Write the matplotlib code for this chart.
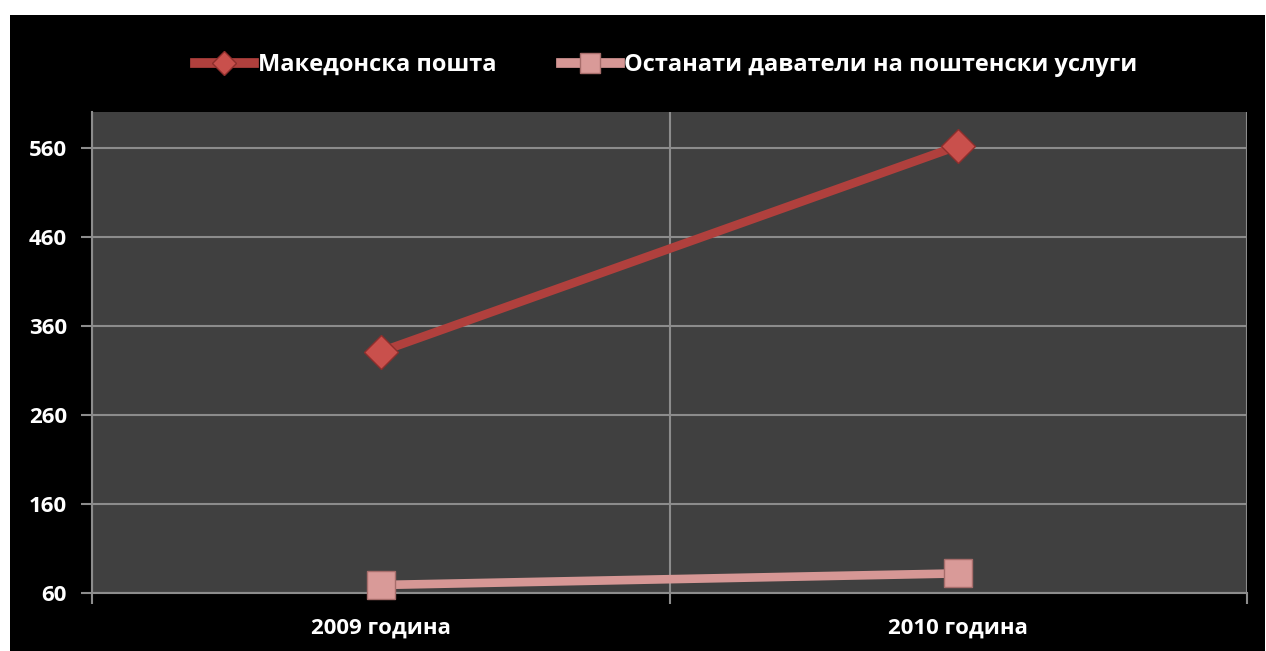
import matplotlib
matplotlib.use("Agg")

import numpy as np
import matplotlib.pyplot as plt
from matplotlib.lines import Line2D
from matplotlib.patches import Rectangle

categories = ['2009 година', '2010 година']
mk_posta = [331, 562]
ostanati = [69, 82]
series_names = ['Македонска пошта', 'Останати даватели на поштенски услуги']
y_ticks = [60, 160, 260, 360, 460, 560]

plt.rcParams['font.family'] = ['Open Sans', 'DejaVu Sans']

W, H = 1266, 651
fig = plt.figure(figsize=(W / 100, H / 100), dpi=100)
fig.patch.set_facecolor('white')

# black chart area behind everything
fig.patches.append(Rectangle((10 / W, 0), 1255 / W, 636 / H, transform=fig.transFigure,
                             facecolor='black', edgecolor='none', zorder=-10))

ax = fig.add_axes([92 / W, 58 / H, 1155 / W, 481 / H])
ax.set_facecolor('#404040')

red = '#B0403D'
red_m = '#C9504C'
pink = '#D69795'
pink_m = '#D99A98'
grid_c = '#8C8C8C'

x = np.arange(len(categories))
ax.plot(x, mk_posta, color=red, lw=6.2, marker='D', ms=17, mfc=red_m, mec='#8E2E2C',
        mew=1, solid_capstyle='butt', zorder=4, clip_on=False)
ax.plot(x, ostanati, color=pink, lw=6.2, marker='s', ms=20, mfc=pink_m, mec='#A76D6B',
        mew=1, solid_capstyle='butt', zorder=4, clip_on=False)

ax.set_xlim(-0.5, 1.5)
ax.set_ylim(60, 600)
ax.set_yticks(y_ticks)
ax.set_yticklabels([str(v) for v in y_ticks])
ax.set_xticks([-0.5, 0.5, 1.5])
ax.set_xticklabels([])
ax.set_xticks(x, minor=True)
ax.set_xticklabels(categories, minor=True)

ax.grid(True, which='major', color=grid_c, lw=1.5)
ax.set_axisbelow(True)
ax.tick_params(axis='both', which='major', colors=grid_c, length=8, width=1.5, direction='out')
ax.tick_params(axis='y', labelcolor='white', labelsize=16, pad=10)
ax.tick_params(axis='x', which='minor', length=0, labelcolor='white', labelsize=16, pad=18)
for lab in ax.get_yticklabels() + ax.get_xticklabels(minor=True):
    lab.set_fontweight('bold')

for s in ['top', 'right']:
    ax.spines[s].set_visible(False)
for s in ['left', 'bottom']:
    ax.spines[s].set_color(grid_c)
    ax.spines[s].set_linewidth(1.5)

handles = [
    Line2D([], [], color=red, lw=7, marker='D', ms=12, mfc=red_m, mec='#8E2E2C'),
    Line2D([], [], color=pink, lw=7, marker='s', ms=15, mfc=pink_m, mec='#A76D6B'),
]
leg = fig.legend(handles, series_names, loc='center', bbox_to_anchor=(666 / W, 1 - 65 / H),
                 ncol=2, frameon=False, handlelength=2.5, handletextpad=0.2,
                 columnspacing=2.7, prop={'size': 17, 'weight': 'bold'})
for t in leg.get_texts():
    t.set_color('white')

fig.savefig('out.png', dpi=100, facecolor='white')
